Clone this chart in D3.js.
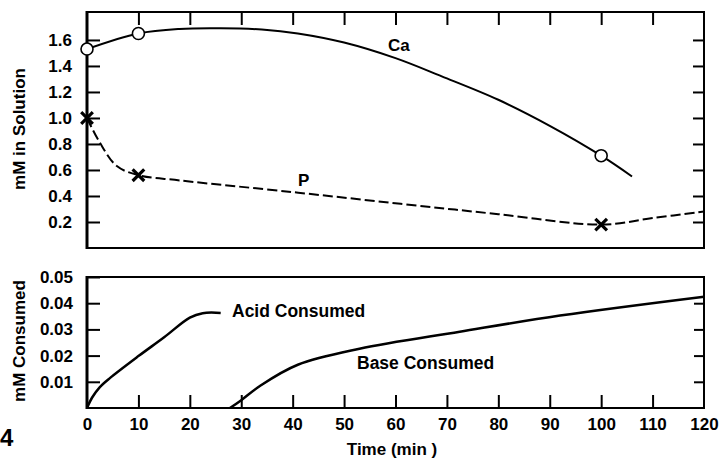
<!DOCTYPE html>
<html><head><meta charset="utf-8">
<script src="https://cdn.jsdelivr.net/npm/d3@7"></script>
<style>
body{margin:0;background:#fff;}
svg{display:block;font-family:"Liberation Sans",Arial,Helvetica,sans-serif;font-weight:bold;}
</style></head><body>
<svg id="chart" width="720" height="461"></svg>
<script>
// ---- data ----
const xTicks = [0,10,20,30,40,50,60,70,80,90,100,110,120];
const topYTicks = [0.2,0.4,0.6,0.8,1.0,1.2,1.4,1.6];
const botYTicks = [0.01,0.02,0.03,0.04,0.05];

// Ca in solution (smooth curve) and measured points
const caTime  = [0,10,18,26,34,41,50,60,69,80,90,100,106];
const caValue = [1.53,1.65,1.685,1.69,1.68,1.65,1.58,1.46,1.32,1.14,0.94,0.71,0.55];
const caPtTime  = [0,10,100];
const caPtValue = [1.53,1.65,0.71];

// P in solution (dashed curve) and measured points
const pTime  = [0,2.5,5.8,10,18,40,61,80,100,110,120];
const pValue = [1.0,0.81,0.63,0.56,0.52,0.43,0.34,0.26,0.18,0.23,0.28];
const pPtTime  = [0,10,100];
const pPtValue = [1.0,0.56,0.18];

// Acid and base consumed
const acidTime  = [0,1,2.5,4.5,10,15,20,22.5,26];
const acidValue = [0,0.004,0.008,0.0115,0.0198,0.027,0.0345,0.0362,0.0363];
const baseTime  = [27.8,30,33.7,41,53,72.5,92,120];
const baseValue = [0,0.003,0.0085,0.0165,0.0226,0.0291,0.0353,0.0425];

// ---- drawing ----
const svg = d3.select("#chart");
const L = 87, R = 704;
const topT = 12, topB = 248, botT = 277, botB = 408;
const x = d3.scaleLinear().domain([0,120]).range([L,R]);
const yTop = d3.scaleLinear().domain([0,1.815]).range([topB,topT]);
const yBot = d3.scaleLinear().domain([0,0.05]).range([botB,botT]);
const FS = 17;

function zip(a,b){return a.map((v,i)=>[v,b[i]]);}

function styleAxis(g){
  g.select(".domain").remove();
  g.selectAll(".tick line").attr("stroke","#000").attr("stroke-width",2);
  g.selectAll("text").attr("font-size",FS).attr("font-weight","bold").attr("fill","#000")
    .attr("font-family","Liberation Sans, Arial, sans-serif");
}
const TL = 13;

// top panel
svg.append("g").attr("transform",`translate(${L},0)`)
  .call(d3.axisLeft(yTop).tickValues(topYTicks).tickSize(-TL).tickPadding(15).tickFormat(d3.format(".1f")))
  .call(styleAxis);
svg.append("g").attr("transform",`translate(${R},0)`)
  .call(d3.axisRight(yTop).tickValues(topYTicks).tickSize(-11).tickFormat(""))
  .call(styleAxis);
svg.append("g").attr("transform",`translate(0,${topT})`)
  .call(d3.axisTop(x).tickValues(xTicks.slice(1,-1)).tickSize(-TL).tickFormat(""))
  .call(styleAxis);
svg.append("rect").attr("x",L).attr("y",topT).attr("width",R-L).attr("height",topB-topT)
  .attr("fill","none").attr("stroke","#000").attr("stroke-width",2);

// bottom panel
svg.append("g").attr("transform",`translate(${L},0)`)
  .call(d3.axisLeft(yBot).tickValues(botYTicks).tickSize(-TL).tickPadding(14).tickFormat(d3.format(".2f")))
  .call(styleAxis);
svg.append("g").attr("transform",`translate(${R},0)`)
  .call(d3.axisRight(yBot).tickValues(botYTicks.slice(0,-1)).tickSize(-10).tickFormat(""))
  .call(styleAxis);
const xb = svg.append("g").attr("transform",`translate(0,${botB})`)
  .call(d3.axisBottom(x).tickValues(xTicks).tickSize(-TL).tickPadding(10).tickFormat(d3.format("d")))
  .call(styleAxis);
xb.selectAll(".tick").filter(d=>d===0||d===120).select("line").remove();
svg.append("rect").attr("x",L).attr("y",botT).attr("width",R-L).attr("height",botB-botT)
  .attr("fill","none").attr("stroke","#000").attr("stroke-width",2);
svg.append("line").attr("x1",L).attr("x2",L).attr("y1",topT-1).attr("y2",topB+1).attr("stroke","#000").attr("stroke-width",3);
svg.append("line").attr("x1",L).attr("x2",L).attr("y1",botT-1).attr("y2",botB+1).attr("stroke","#000").attr("stroke-width",3);

// curves
const smooth = d3.curveCatmullRom.alpha(0.5);
const lineTop = d3.line().x(d=>x(d[0])).y(d=>yTop(d[1])).curve(smooth);
const lineBot = d3.line().x(d=>x(d[0])).y(d=>yBot(d[1])).curve(smooth);

svg.append("path").datum(zip(caTime,caValue)).attr("d",lineTop)
  .attr("fill","none").attr("stroke","#000").attr("stroke-width",2);
svg.append("path").datum(zip(pTime,pValue)).attr("d",lineTop)
  .attr("fill","none").attr("stroke","#000").attr("stroke-width",2).attr("stroke-dasharray","10,4");
svg.append("path").datum(zip(acidTime,acidValue)).attr("d",lineBot)
  .attr("fill","none").attr("stroke","#000").attr("stroke-width",2.5);
svg.append("path").datum(zip(baseTime,baseValue)).attr("d",lineBot)
  .attr("fill","none").attr("stroke","#000").attr("stroke-width",2.5);

// markers
svg.selectAll("circle.ca").data(zip(caPtTime,caPtValue)).enter().append("circle")
  .attr("class","ca").attr("cx",d=>x(d[0])).attr("cy",d=>yTop(d[1])).attr("r",6)
  .attr("fill","#fff").attr("stroke","#000").attr("stroke-width",1.6);
svg.selectAll("path.px").data(zip(pPtTime,pPtValue)).enter().append("path")
  .attr("class","px").attr("d",d3.symbol(d3.symbolX,90))
  .attr("transform",d=>`translate(${x(d[0])},${yTop(d[1])})`)
  .attr("fill","none").attr("stroke","#000").attr("stroke-width",3.2);

// labels
function label(t,xx,yy,anchor,size){
  return svg.append("text").attr("x",xx).attr("y",yy).attr("font-size",size||FS)
    .attr("text-anchor",anchor||"start").text(t);
}
label("Ca",388,51);
label("P",298,186);
label("Acid Consumed",232,317,"start",17.5);
label("Base Consumed",357,369,"start",17.5);
label("Time (min )",392,455,"middle");
label("4",0,446,"start",24);
svg.append("text").attr("transform","translate(25,129) rotate(-90)")
  .attr("text-anchor","middle").attr("font-size",FS).text("mM in Solution");
svg.append("text").attr("transform","translate(25,341) rotate(-90)")
  .attr("text-anchor","middle").attr("font-size",FS).text("mM Consumed");
</script></body></html>
